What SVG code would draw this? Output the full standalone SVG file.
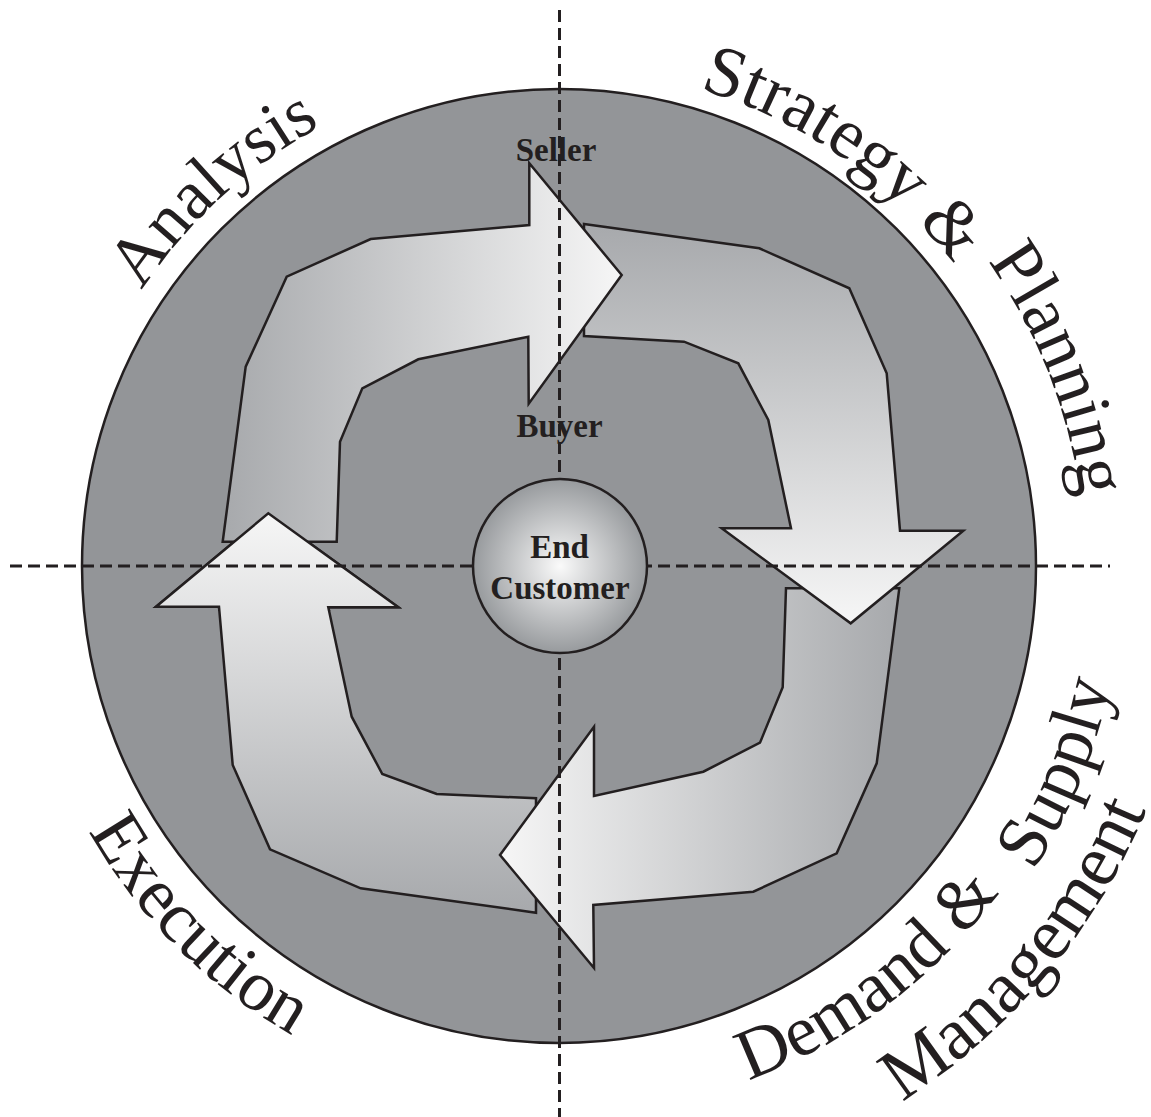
<svg xmlns="http://www.w3.org/2000/svg" xmlns:xlink="http://www.w3.org/1999/xlink" width="1151" height="1117" viewBox="0 0 1151 1117">
  <style>
    .ring { fill: #939598; stroke: #231f20; stroke-width: 2.5; }
    .arrow { stroke: #231f20; stroke-width: 2.5; stroke-linejoin: miter; }
    .axis { fill: none; stroke: #231f20; stroke-width: 3; stroke-dasharray: 12 6; }
    .lbl { font-family: 'Liberation Serif', 'Times New Roman', serif; font-weight: bold; font-size: 33px; fill: #231f20; text-anchor: middle; }
    .arc { font-family: 'Liberation Serif', 'Times New Roman', serif; font-size: 72px; fill: #231f20; }
    .hub { fill: url(#gHub); stroke: #231f20; stroke-width: 2.5; }
  </style>
  <defs>
    <linearGradient id="g1" x1="0" y1="0" x2="1" y2="0">
      <stop offset="0" stop-color="#a7a9ac"/>
      <stop offset="1" stop-color="#f6f6f6"/>
    </linearGradient>
    <linearGradient id="g2" x1="0" y1="0" x2="0" y2="1">
      <stop offset="0" stop-color="#a7a9ac"/>
      <stop offset="1" stop-color="#f6f6f6"/>
    </linearGradient>
    <linearGradient id="g3" x1="0" y1="0" x2="1" y2="0">
      <stop offset="0" stop-color="#f6f6f6"/>
      <stop offset="1" stop-color="#a7a9ac"/>
    </linearGradient>
    <linearGradient id="g4" x1="0" y1="0" x2="0" y2="1">
      <stop offset="0" stop-color="#f6f6f6"/>
      <stop offset="1" stop-color="#a7a9ac"/>
    </linearGradient>
    <radialGradient id="gHub" cx="0.5" cy="0.5" r="0.5">
      <stop offset="0" stop-color="#fafafa"/>
      <stop offset="1" stop-color="#979a9d"/>
    </radialGradient>
    <clipPath id="clipHead4">
      <rect x="140" y="500" width="280" height="111"/>
    </clipPath>
    <path id="cw500" d="M 59 566 A 500 500 0 0 1 1059 566 A 500 500 0 0 1 59 566"/>
    <path id="cw497" d="M 62 566 A 497 497 0 0 1 1056 566 A 497 497 0 0 1 62 566"/>
    <path id="cw526" d="M 33 566 A 526 526 0 0 1 1085 566 A 526 526 0 0 1 33 566"/>
    <path id="ccw540" d="M 19 566 A 540 540 0 0 0 1099 566 A 540 540 0 0 0 19 566"/>
    <path id="ccw548" d="M 11 566 A 548 548 0 0 0 1107 566 A 548 548 0 0 0 11 566"/>
    <path id="ccw564" d="M -5 566 A 564 564 0 0 0 1123 566 A 564 564 0 0 0 -5 566"/>
    <path id="ccw636" d="M -77 566 A 636 636 0 0 0 1195 566 A 636 636 0 0 0 -77 566"/>
  </defs>

  <rect width="1151" height="1117" fill="#ffffff"/>

  <g id="outer-circle">
    <circle class="ring" cx="559" cy="566" r="477"/>
  </g>

  <g id="ring-labels" class="arc">
    <text id="label-analysis" font-size="70"><textPath xlink:href="#cw500" href="#cw500" startOffset="292">Analysis</textPath></text>
    <text id="label-strategy-planning"><textPath xlink:href="#cw497" href="#cw497" startOffset="923">Strategy &amp;</textPath><textPath xlink:href="#cw526" href="#cw526" startOffset="1327">Planning</textPath></text>
    <text id="label-execution"><textPath xlink:href="#ccw540" href="#ccw540" startOffset="277">Execution</textPath></text>
    <text id="label-demand-supply"><textPath xlink:href="#ccw548" href="#ccw548" startOffset="1054">Demand &amp;</textPath><textPath xlink:href="#ccw564" href="#ccw564" startOffset="1449">Supply</textPath></text>
    <text id="label-management" font-size="74"><textPath xlink:href="#ccw636" href="#ccw636" startOffset="1361">Management</textPath></text>
  </g>

  <g id="connectors">
    <path id="arrow-4" class="arrow" fill="url(#g4)" d="M 536 912.7 L 536 798.3 L 436.7 794 L 382.3 774 L 351.7 716.7 L 328.3 607.3 L 398.3 607.3 L 268.3 513.3 L 156 606.7 L 219 606.7 L 232.7 765 L 270 849.3 L 360.7 888.3 Z"/>
    <path id="arrow-3" class="arrow" fill="url(#g3)" d="M 786 588.3 L 899.3 588.3 L 876.7 763.3 L 836.7 853.3 L 753.3 891.7 L 593.3 905 L 594 968 L 500 855 L 594 726.7 L 594 796 L 703.3 771.7 L 760 742.7 L 782.7 687.3 Z"/>
    <path id="arrow-2" class="arrow" fill="url(#g2)" d="M 584 224 L 759.3 248.3 L 849.3 288.3 L 886.7 373.3 L 900 530.7 L 963.3 530.7 L 850.7 623.3 L 721.7 528.3 L 791 528.3 L 768.3 420 L 738.3 363.3 L 684 341.7 L 584 336 Z"/>
    <path id="arrow-1" class="arrow" fill="url(#g1)" d="M 222.7 541.7 L 245.7 366.7 L 286.7 276.7 L 370.7 239 L 529.3 225 L 529.3 163.3 L 621.7 275 L 528.7 403.7 L 528.3 336.7 L 418.3 359.3 L 362.3 388.3 L 340 441.7 L 336.7 541.7 Z"/>
    <use xlink:href="#arrow-4" href="#arrow-4" clip-path="url(#clipHead4)"/>
  </g>

  <g id="seller-label">
    <text class="lbl" x="556" y="161">Seller</text>
  </g>
  <g id="buyer-label">
    <text class="lbl" x="559.5" y="437">Buyer</text>
  </g>

  <g id="axes">
    <line class="axis" x1="559.5" y1="10" x2="559.5" y2="1117"/>
    <line class="axis" x1="10" y1="566" x2="1110" y2="566"/>
  </g>

  <g id="end-customer">
    <circle class="hub" cx="560" cy="566" r="87"/>
    <text class="lbl" x="559.5" y="558">End</text>
    <text class="lbl" x="560" y="599">Customer</text>
  </g>
</svg>
